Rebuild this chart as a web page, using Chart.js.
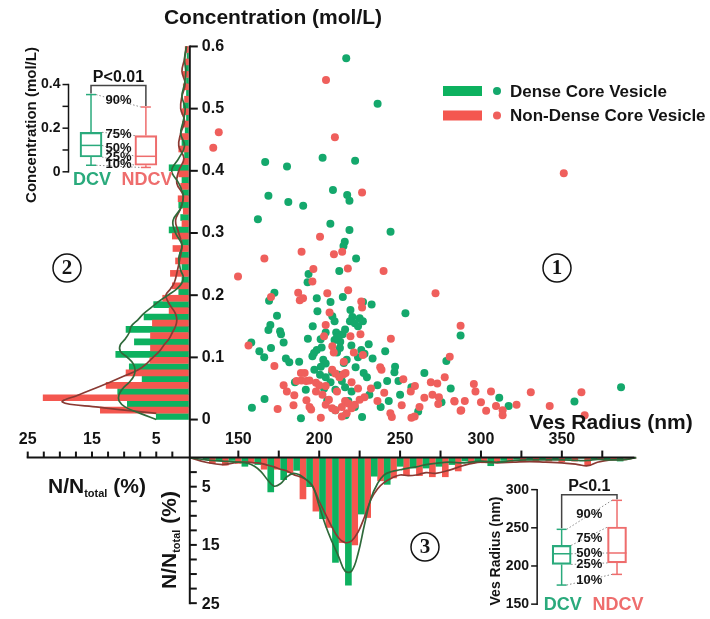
<!DOCTYPE html>
<html>
<head>
<meta charset="utf-8">
<script src="https://cdn.jsdelivr.net/npm/chart.js@4.4.1/dist/chart.umd.min.js"></script>
<style>
  html, body { margin: 0; padding: 0; background: #fff; }
  #wrap { position: relative; width: 710px; height: 619px; }
  canvas { display: block; }
</style>
</head>
<body>
<div id="wrap"><canvas id="fig" width="710" height="619"></canvas></div>
<script>
// ---------- data ----------
// scatter: [vesicle radius (nm), concentration (mol/L)]
const dcvPoints = [
  [216.7,0.581],[236.1,0.508],[166.6,0.414],[180.1,0.407],[202.1,0.421],[222.2,0.416],[168.6,0.360],[180.9,0.350],
  [190.1,0.344],[208.5,0.369],[217.3,0.361],[218.7,0.352],[162.1,0.322],[287.4,0.135],[281.3,0.050],[311.3,0.035],
  [317.1,0.022],[357.8,0.029],[386.6,0.052],[206.9,0.315],[218.7,0.305],[244.1,0.302],[215.8,0.286],[215.0,0.279],
  [222.8,0.259],[212.4,0.239],[193.4,0.234],[192.8,0.221],[172.3,0.204],[169.0,0.191],[198.5,0.195],[214.6,0.197],
  [207.0,0.189],[232.4,0.185],[227.1,0.189],[198.9,0.174],[253.3,0.171],[173.9,0.167],[219.3,0.176],[220.5,0.165],
  [225.0,0.163],[222.0,0.155],[227.0,0.158],[219.0,0.158],[224.0,0.150],[208.1,0.166],[209.5,0.158],[169.8,0.152],
  [168.6,0.144],[175.8,0.142],[210.5,0.140],[212.0,0.135],[214.5,0.137],[209.5,0.128],[213.0,0.125],[211.0,0.132],
  [216.0,0.145],[176.4,0.137],[158.0,0.124],[178.0,0.124],[200.9,0.129],[201.5,0.116],[198.5,0.112],[219.9,0.119],
  [230.6,0.121],[226.0,0.112],[228.0,0.106],[212.8,0.115],[170.2,0.115],[196.8,0.107],[240.8,0.110],[195.8,0.102],
  [179.4,0.098],[181.5,0.092],[187.6,0.093],[202.5,0.096],[204.0,0.090],[201.0,0.085],[215.2,0.091],[222.5,0.084],
  [227.5,0.075],[229.5,0.068],[246.9,0.085],[246.5,0.076],[278.6,0.094],[200.5,0.072],[204.0,0.068],[208.0,0.076],
  [212.0,0.072],[216.0,0.052],[210.0,0.048],[220.0,0.045],[191.7,0.048],[242.0,0.062],[249.0,0.062],[205.0,0.031],
  [166.2,0.033],[158.4,0.019],[188.7,0.002],[216.3,0.007],[226.5,0.004],[243.0,0.030],[261.2,0.013],[275.6,0.028],
  [207.0,0.060],[214.0,0.062],[218.0,0.030],[222.0,0.020],[210.0,0.015],[231.0,0.040],[236.0,0.055],[224.0,0.100],
  [233.0,0.098],[203.0,0.050],[197.0,0.080],[185.0,0.060],[193.0,0.130],[196.0,0.150],[211.0,0.108],[217.0,0.096],
  [204.0,0.140],[166.0,0.100],[163.0,0.110],[238.0,0.020],[250.0,0.040],[265.0,0.075],[257.0,0.052]
];
const ndcvPoints = [
  [204.2,0.546],[137.9,0.462],[134.5,0.437],[209.7,0.454],[226.5,0.365],[351.2,0.396],[287.4,0.151],[280.7,0.101],
  [295.6,0.057],[296.6,0.045],[283.5,0.030],[287.4,0.014],[306.2,0.045],[303.2,0.014],[309.3,0.022],[313.4,0.015],
  [313.4,0.007],[322.0,0.024],[330.8,0.044],[342.5,0.022],[362.1,0.044],[364.1,0.007],[149.8,0.230],[166.1,0.259],
  [189.1,0.270],[200.5,0.294],[209.1,0.266],[214.2,0.270],[196.4,0.242],[195.8,0.222],[217.7,0.243],[239.8,0.239],
  [271.9,0.203],[187.0,0.204],[188.0,0.192],[190.0,0.195],[205.0,0.203],[217.9,0.208],[170.2,0.197],[226.0,0.190],
  [226.5,0.180],[206.4,0.172],[204.0,0.152],[225.5,0.137],[219.3,0.134],[203.0,0.134],[244.3,0.130],[156.3,0.119],
  [208.1,0.118],[209.0,0.108],[221.4,0.108],[227.0,0.104],[172.3,0.086],[215.2,0.093],[237.7,0.084],[238.5,0.080],
  [188.7,0.075],[191.0,0.075],[208.0,0.080],[210.0,0.074],[212.5,0.068],[215.0,0.073],[216.3,0.075],[186.0,0.062],
  [189.0,0.063],[192.0,0.062],[194.0,0.063],[198.0,0.059],[200.0,0.055],[204.0,0.054],[252.0,0.065],[259.2,0.054],
  [269.0,0.060],[273.0,0.058],[277.6,0.068],[256.6,0.045],[270.0,0.040],[274.0,0.036],[184.6,0.039],[192.1,0.031],
  [194.0,0.020],[195.0,0.016],[202.0,0.040],[206.0,0.032],[204.0,0.024],[208.0,0.018],[210.0,0.015],[214.0,0.020],
  [216.0,0.030],[218.0,0.026],[220.0,0.018],[222.0,0.024],[225.0,0.032],[228.0,0.036],[214.0,0.005],[217.0,0.010],
  [240.2,0.043],[244.0,0.010],[244.9,0.004],[251.0,0.023],[257.0,0.003],[259.0,0.005],[174.3,0.017],[184.1,0.023],
  [201.0,0.003],[283.7,0.029],[287.8,0.015],[273.6,0.025],[232.0,0.050],[236.0,0.030],[198.0,0.045],[211.0,0.045],
  [220.0,0.060],[224.0,0.050],[265.0,0.035],[262.0,0.020],[290.0,0.030],[300.0,0.028],[178.0,0.055],[180.0,0.045]
];

// radius histogram (panel 3): bin centres (nm) and N/Ntotal (%)
const radiusBins = [132,140,148,156,164,172,180,188,196,204,212,220,228,236,244,252,260,268,276,284,292,300,308,316,324,332,340,348,356,364,372,380,388];
const dcvRadiusPct = [0.3,0.6,0.5,1.5,1.2,5.9,3.8,2.2,5.0,10.5,18.0,21.9,9.7,3.2,4.6,1.5,1.8,1.8,1.5,1.2,0.6,0.8,1.4,0.5,0.3,0.4,0.2,0.2,0.3,0.1,0.3,0.2,0.6];
const ndcvRadiusPct = [1.0,1.3,1.0,0.8,2.0,2.0,2.6,7.1,9.2,12.0,14.6,15.0,10.3,4.0,3.5,3.0,3.1,3.3,3.3,2.3,1.0,0.9,0.8,0.8,0.6,0.7,0.6,0.7,0.6,1.4,0.3,0.2,0.1];

// concentration histogram (panel 2): bin centres (mol/L) and N/Ntotal (%)
const concBins = [0.01,0.03,0.05,0.07,0.09,0.11,0.13,0.15,0.17,0.19,0.21,0.23,0.25,0.27,0.29,0.31,0.33,0.35,0.37,0.39,0.41,0.43,0.45,0.47,0.49,0.51,0.53,0.55,0.57,0.59];
const dcvConcPct = [5.0,9.5,11.0,7.2,9.2,11.3,8.4,9.7,6.9,5.4,1.5,1.0,1.0,1.4,1.0,3.0,1.2,1.5,0.8,1.0,3.0,0.6,1.0,0.5,0.3,0.8,0.3,0.3,0.5,0.2];
const ndcvConcPct = [13.7,22.6,12.8,9.7,6.0,5.9,5.9,5.6,3.0,4.0,2.5,2.8,2.0,2.4,2.5,1.0,0.8,1.6,1.2,1.5,0.8,1.5,1.2,0.9,1.0,0.6,0.8,0.8,0.5,0.5];

// fitted distribution curves
const radiusCurveX = [120,130,140,150,156,160,164,168,172,176,180,184,188,192,196,200,204,208,212,216,220,224,228,232,236,240,245,250,255,260,266,272,280,290,300,310,320,330,340,350,360,366,372,380,390,396];
const dcvRadiusCurve = [0,0.4,0.6,0.8,1.0,1.5,2.4,3.8,4.9,4.5,3.3,2.7,3.0,3.8,4.9,8.3,11.7,14.5,17.0,19.5,19.5,16.5,11.5,7.0,4.5,3.0,2.4,2.1,1.8,1.6,1.2,1.0,0.8,0.9,0.6,0.8,0.5,0.4,0.4,0.4,0.5,0.5,0.3,0.4,0.3,0];
const ndcvRadiusCurve = [0,0.8,1.2,0.8,0.8,0.9,1.0,1.3,1.6,2.0,2.3,2.9,3.3,3.8,5.0,7.5,9.8,12.0,13.8,14.6,14.3,12.8,10.2,7.2,5.4,4.3,3.5,3.0,3.1,3.0,2.6,2.7,2.2,1.3,0.8,0.9,0.8,0.7,0.8,0.9,1.2,1.4,0.8,0.4,0.3,0];
const dcvConcCurveY = [0,0.01,0.02,0.03,0.04,0.05,0.06,0.07,0.08,0.09,0.10,0.11,0.12,0.13,0.14,0.15,0.16,0.17,0.18,0.19,0.20,0.21,0.22,0.23,0.24,0.26,0.28,0.30,0.32,0.34,0.36,0.38,0.40,0.42,0.44,0.46,0.48,0.50,0.52,0.54,0.56,0.58,0.60];
const dcvConcCurve = [5.0,7.5,9.8,10.8,10.8,10.2,9.2,8.5,8.3,8.6,9.5,10.6,10.6,9.8,9.2,8.9,7.9,7.0,5.8,4.6,3.2,1.8,1.0,0.8,1.2,1.5,1.0,2.0,2.4,1.2,0.8,1.5,2.6,1.5,0.6,1.2,0.8,0.5,1.0,0.6,0.4,0.6,0.3];
const ndcvConcCurveY = [0.01,0.02,0.028,0.04,0.05,0.06,0.07,0.08,0.09,0.10,0.11,0.12,0.13,0.14,0.15,0.16,0.17,0.18,0.19,0.20,0.21,0.22,0.24,0.26,0.28,0.30,0.32,0.34,0.36,0.38,0.40,0.42,0.44,0.46,0.48,0.50,0.52,0.54,0.56,0.58,0.60];
const ndcvConcCurve = [5.0,14.0,19.6,17.0,14.6,12.2,10.0,7.8,6.5,5.5,4.5,3.8,3.0,2.5,2.0,1.8,2.0,2.6,3.2,3.5,2.8,2.2,1.7,1.3,1.0,1.5,2.0,1.2,0.8,1.8,1.5,0.7,1.5,1.2,0.6,1.2,1.0,0.5,1.0,0.6,0.3];

// box plots: [10%, 25%, 50%, 75%, 90%]
const boxGroups = ['DCV', 'NDCV'];
const quantileNames = ['10%', '25%', '50%', '75%', '90%'];
const dcvConcBox = [0.030, 0.068, 0.121, 0.181, 0.354];
const ndcvConcBox = [0.020, 0.030, 0.071, 0.166, 0.297];
const dcvRadiusBox = [175, 202, 216, 227, 248];
const ndcvRadiusBox = [189, 204, 217, 251, 286];

// axes
const concTicks = [0, 0.1, 0.2, 0.3, 0.4, 0.5, 0.6];
const radiusTicks = [150, 175, 200, 225, 250, 275, 300, 325, 350, 375];
const radiusTickLabels = [150, 200, 250, 300, 350];
const pctTicks = [2.5, 5, 7.5, 10, 12.5, 15, 17.5, 20, 22.5, 25];
const pctTickLabels = [5, 15, 25];
const radiusAxisRange = [120, 395];
const insetConcTicks = [0, 0.1, 0.2, 0.3, 0.4];
const insetConcLabels = [0, 0.2, 0.4];
const insetRadiusTicks = [150, 200, 250, 300];
const legendNames = ['Dense Core Vesicle', 'Non-Dense Core Vesicle'];

// ---------- style ----------
const W = 710, H = 619;
const ink = '#141414';
const SANS = '"Liberation Sans", Arial, Helvetica, sans-serif';
const SERIF = '"Liberation Serif", "Times New Roman", serif';
const dotGreen = '#14a86c', dotRed = '#ef5f5c';
const barGreen = '#0db15f', barRed = '#f4574f';
const curveGreen = '#2f6a3b', curveRed = '#8a3a33';
const boxGreen = '#2aaa7c', boxRed = '#ee6d6d';
const half = 3.2; // side-by-side offset of the paired histogram bars (px)

// hidden linear scale spanning the whole canvas, with value a at pixel pa and b at pb
function hiddenScale(axis, a, pa, b, pb) {
  const size = axis === 'x' ? W : H;
  const k = (b - a) / (pb - pa);
  const v0 = a - pa * k, v1 = a + (size - pa) * k;
  let lo = axis === 'x' ? v0 : v1, hi = axis === 'x' ? v1 : v0;
  const reverse = lo > hi;
  if (reverse) [lo, hi] = [hi, lo];
  return { type: 'linear', axis, display: false, min: lo, max: hi, reverse, offset: false, bounds: 'data', grace: 0 };
}

function seg(ctx, x1, y1, x2, y2) {
  ctx.beginPath(); ctx.moveTo(x1, y1); ctx.lineTo(x2, y2); ctx.stroke();
}
function label(ctx, s, x, y, px, align, color) {
  ctx.font = 'bold ' + px + 'px ' + SANS;
  ctx.fillStyle = color || ink;
  ctx.textAlign = align || 'center';
  ctx.textBaseline = 'middle';
  ctx.fillText(s, x, y);
}
function nTotal(ctx, x, y) {
  ctx.fillStyle = ink; ctx.textAlign = 'left'; ctx.textBaseline = 'alphabetic';
  ctx.font = 'bold 21px ' + SANS; ctx.fillText('N/N', x, y);
  let w = ctx.measureText('N/N').width;
  ctx.font = 'bold 11px ' + SANS; ctx.fillText('total', x + w, y + 4);
  w += ctx.measureText('total').width;
  ctx.font = 'bold 21px ' + SANS; ctx.fillText(' (%)', x + w, y);
}
function circled(ctx, n, x, y) {
  ctx.strokeStyle = ink; ctx.lineWidth = 1.5;
  ctx.beginPath(); ctx.arc(x, y, 14, 0, Math.PI * 2); ctx.stroke();
  ctx.fillStyle = ink; ctx.font = 'bold 21px ' + SERIF;
  ctx.textAlign = 'center'; ctx.textBaseline = 'middle';
  ctx.fillText(n, x, y + 1);
}
function fmtConc(v) { return v === 0 ? '0' : v.toFixed(1); }

function drawInset(ctx, xs, ys, stats, cfg) {
  const cx = [xs.getPixelForValue(0), xs.getPixelForValue(1)];
  const yv = v => ys.getPixelForValue(v);
  const colors = [boxGreen, boxRed];
  const hw = cfg.box / 2, cap = 5;
  const top = cfg.ticks[cfg.ticks.length - 1];
  const axX = cx[0] - cfg.axisGap;
  ctx.strokeStyle = ink; ctx.lineWidth = 1.5;
  seg(ctx, axX, yv(cfg.ticks[0]) + 0.75, axX, yv(top) - 0.75);
  cfg.ticks.forEach(v => seg(ctx, axX, yv(v), axX - 6, yv(v)));
  cfg.tickLabels.forEach(v => label(ctx, cfg.fmt(v), axX - 8, yv(v), 14, 'right'));

  stats.forEach((st, i) => {
    ctx.strokeStyle = colors[i]; ctx.lineWidth = 1.5;
    seg(ctx, cx[i], yv(st[3]), cx[i], yv(st[4]));
    seg(ctx, cx[i] - cap, yv(st[4]), cx[i] + cap, yv(st[4]));
    seg(ctx, cx[i], yv(st[1]), cx[i], yv(st[0]));
    seg(ctx, cx[i] - cap, yv(st[0]), cx[i] + cap, yv(st[0]));
    seg(ctx, cx[i] - hw, yv(st[2]), cx[i] + hw, yv(st[2]));
  });

  ctx.strokeStyle = '#8a8a8a'; ctx.lineWidth = 1; ctx.setLineDash([1.5, 2]);
  quantileNames.forEach((q, j) => {
    const e = (j === 0 || j === 4) ? cap : hw;
    seg(ctx, cx[0] + e, yv(stats[0][j]), cx[1] - e, yv(stats[1][j]));
  });
  ctx.setLineDash([]);
  quantileNames.forEach((q, j) => {
    const my = (yv(stats[0][j]) + yv(stats[1][j])) / 2 + (cfg.qShift[j] || 0);
    label(ctx, q, (cx[0] + cx[1]) / 2, my, 13);
  });

  const by = yv(top) + cfg.bracketGap;
  ctx.strokeStyle = '#444'; ctx.lineWidth = 1.5;
  ctx.beginPath();
  ctx.moveTo(cx[0], yv(stats[0][4]) - 1); ctx.lineTo(cx[0], by);
  ctx.lineTo(cx[1], by); ctx.lineTo(cx[1], yv(stats[1][4]) - 1);
  ctx.stroke();
  label(ctx, cfg.pText, (cx[0] + cx[1]) / 2, by - 8, 16);

  boxGroups.forEach((g, i) => label(ctx, g, cx[i] + 1, cfg.groupY, 18, 'center', colors[i]));

  ctx.save();
  ctx.translate(cfg.titleX, cfg.titleY);
  ctx.rotate(-Math.PI / 2);
  label(ctx, cfg.title, 0, 0, cfg.titleSize);
  ctx.restore();
}

const decor = {
  id: 'decor',
  afterDatasetsDraw(chart) {
    const ctx = chart.ctx, s = chart.scales;
    ctx.save();
    ctx.lineCap = 'butt';
    const ox = s.x.getPixelForValue(radiusAxisRange[0]);
    const oy = s.y2.getPixelForValue(0);

    // cross-shaped axes
    ctx.strokeStyle = ink; ctx.lineWidth = 2;
    seg(ctx, ox, s.y.getPixelForValue(0.6) - 1, ox, s.y2.getPixelForValue(25) + 1);
    seg(ctx, s.x2.getPixelForValue(25) - 1, oy, s.x.getPixelForValue(radiusAxisRange[1]), oy);

    concTicks.forEach(v => {
      const p = s.y.getPixelForValue(v);
      seg(ctx, ox, p, ox + 8, p);
      label(ctx, fmtConc(v), ox + 12, p, 16, 'left');
    });
    pctTicks.forEach(v => {
      const p = s.y2.getPixelForValue(v);
      seg(ctx, ox, p, ox + 7, p);
    });
    pctTickLabels.forEach(v => label(ctx, String(v), ox + 12, s.y2.getPixelForValue(v) + 1, 16, 'left'));
    radiusTicks.forEach(v => {
      const p = s.x.getPixelForValue(v);
      seg(ctx, p, oy, p, oy - 7);
    });
    radiusTickLabels.forEach(v => label(ctx, String(v), s.x.getPixelForValue(v), oy - 18, 16));
    pctTicks.forEach(v => {
      const p = s.x2.getPixelForValue(v);
      seg(ctx, p, oy, p, oy - 6);
    });
    pctTickLabels.forEach(v => label(ctx, String(v), s.x2.getPixelForValue(v), oy - 18, 16));

    // axis titles
    label(ctx, 'Concentration (mol/L)', 273, 18, 21);
    label(ctx, 'Ves Radius (nm)', 611, 423, 21);
    nTotal(ctx, 48, 493);
    ctx.save();
    ctx.translate(176, 589);
    ctx.rotate(-Math.PI / 2);
    nTotal(ctx, 0, 0);
    ctx.restore();

    // legend
    const barCols = [barGreen, barRed], dotCols = [dotGreen, dotRed];
    legendNames.forEach((name, i) => {
      const y = 91 + i * 24.5;
      ctx.fillStyle = barCols[i];
      ctx.fillRect(443, y - 5, 39, 10);
      ctx.fillStyle = dotCols[i];
      ctx.beginPath(); ctx.arc(497, y, 4, 0, Math.PI * 2); ctx.fill();
      label(ctx, name, 510, y + 1, 17, 'left');
    });

    circled(ctx, '1', 557, 268);
    circled(ctx, '2', 67, 268);
    circled(ctx, '3', 425, 547);

    drawInset(ctx, s.bx1, s.by1, [dcvConcBox, ndcvConcBox], {
      ticks: insetConcTicks, tickLabels: insetConcLabels, fmt: fmtConc,
      box: 22, axisGap: 22.5, bracketGap: 1, pText: 'P<0.01', groupY: 180,
      qShift: [-2, -4, -2, 0, 0],
      title: 'Concentration (mol/L)', titleX: 32, titleY: 125, titleSize: 15
    });
    drawInset(ctx, s.bx2, s.by2, [dcvRadiusBox, ndcvRadiusBox], {
      ticks: insetRadiusTicks, tickLabels: insetRadiusTicks, fmt: v => String(v),
      box: 19, axisGap: 24.5, bracketGap: 5, pText: 'P<0.1', groupY: 605,
      qShift: [1, 1, 0, 2, 0],
      title: 'Ves Radius (nm)', titleX: 496, titleY: 551, titleSize: 14
    });
    ctx.restore();
  }
};

const toXY = (xs, ys) => xs.map((x, i) => ({ x, y: ys[i] }));

const curveStyle = { type: 'line', pointRadius: 0, borderWidth: 1.7, tension: 0.4, fill: false, order: 0 };
const barStyle = { type: 'bar', barThickness: 6, borderWidth: 0, grouped: false, order: 3 };
const boxStyle = { type: 'bar', borderWidth: 1.5, borderSkipped: false, grouped: false,
  backgroundColor: 'rgba(255,255,255,0)', borderColor: [boxGreen, boxRed], order: 0 };

new Chart(document.getElementById('fig').getContext('2d'), {
  type: 'scatter',
  data: {
    datasets: [
      // panel 3 curves
      { ...curveStyle, data: toXY(radiusCurveX, dcvRadiusCurve), xAxisID: 'x', yAxisID: 'y2', borderColor: curveGreen },
      { ...curveStyle, data: toXY(radiusCurveX, ndcvRadiusCurve), xAxisID: 'x', yAxisID: 'y2', borderColor: curveRed },
      // panel 2 curves
      { ...curveStyle, data: toXY(dcvConcCurve, dcvConcCurveY), xAxisID: 'x2', yAxisID: 'y', borderColor: curveGreen },
      { ...curveStyle, data: toXY(ndcvConcCurve, ndcvConcCurveY), xAxisID: 'x2', yAxisID: 'y', borderColor: curveRed },
      // panel 1 scatter
      { type: 'scatter', data: ndcvPoints.map(p => ({ x: p[0], y: p[1] })), xAxisID: 'x', yAxisID: 'y',
        pointRadius: 4, pointBorderWidth: 0, backgroundColor: dotRed, order: 1 },
      { type: 'scatter', data: dcvPoints.map(p => ({ x: p[0], y: p[1] })), xAxisID: 'x', yAxisID: 'y',
        pointRadius: 4, pointBorderWidth: 0, backgroundColor: dotGreen, order: 2 },
      // panel 3 bars (green left, red right in each bin)
      { ...barStyle, data: toXY(radiusBins, dcvRadiusPct), xAxisID: 'xg', yAxisID: 'y2', backgroundColor: barGreen },
      { ...barStyle, data: toXY(radiusBins, ndcvRadiusPct), xAxisID: 'xr', yAxisID: 'y2', backgroundColor: barRed },
      // panel 2 bars (red above, green below in each bin)
      { ...barStyle, indexAxis: 'y', data: toXY(ndcvConcPct, concBins), xAxisID: 'x2', yAxisID: 'yr', backgroundColor: barRed },
      { ...barStyle, indexAxis: 'y', data: toXY(dcvConcPct, concBins), xAxisID: 'x2', yAxisID: 'yg', backgroundColor: barGreen },
      // inset boxes (25%-75%)
      { ...boxStyle, data: [{ x: 0, y: [dcvConcBox[1], dcvConcBox[3]] }, { x: 1, y: [ndcvConcBox[1], ndcvConcBox[3]] }],
        xAxisID: 'bx1', yAxisID: 'by1', barThickness: 22 },
      { ...boxStyle, data: [{ x: 0, y: [dcvRadiusBox[1], dcvRadiusBox[3]] }, { x: 1, y: [ndcvRadiusBox[1], ndcvRadiusBox[3]] }],
        xAxisID: 'bx2', yAxisID: 'by2', barThickness: 19 }
    ]
  },
  options: {
    responsive: false,
    animation: false,
    events: [],
    layout: { padding: 0 },
    plugins: { legend: { display: false }, tooltip: { enabled: false }, title: { display: false } },
    scales: {
      x: hiddenScale('x', 150, 237, 350, 564.2),
      xg: hiddenScale('x', 150, 237 - half, 350, 564.2 - half),
      xr: hiddenScale('x', 150, 237 + half, 350, 564.2 + half),
      y: hiddenScale('y', 0, 421, 0.6, 43),
      yr: hiddenScale('y', 0, 421 - half, 0.6, 43 - half),
      yg: hiddenScale('y', 0, 421 + half, 0.6, 43 + half),
      x2: hiddenScale('x', 0, 186.5, 25, 24),
      y2: hiddenScale('y', 0, 459.5, 25, 607),
      bx1: hiddenScale('x', 0, 88, 1, 143.5),
      by1: hiddenScale('y', 0, 170, 0.4, 81.6),
      bx2: hiddenScale('x', 0, 564, 1, 620),
      by2: hiddenScale('y', 150, 608, 300, 492)
    }
  },
  plugins: [decor]
});
</script>
</body>
</html>
